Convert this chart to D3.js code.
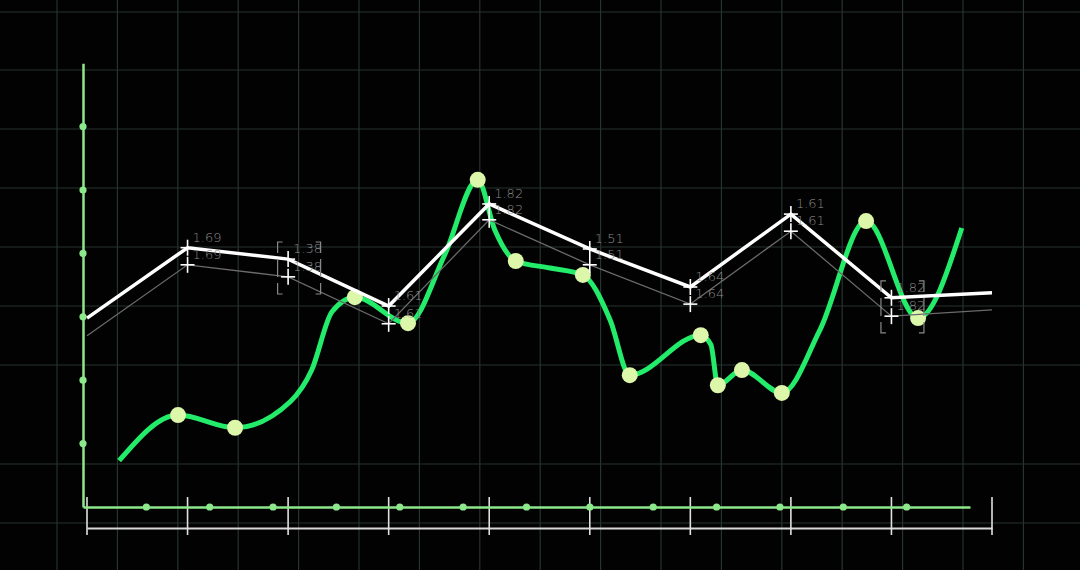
<!DOCTYPE html>
<html><head><meta charset="utf-8">
<script src="https://cdn.jsdelivr.net/npm/d3@7/dist/d3.min.js"></script>
<style>html,body{margin:0;padding:0;background:#000;}svg{display:block;}</style>
</head><body>
<svg id="c" width="1080" height="570"></svg>
<script>
// ---- data ----
const categories = [0,1,2,3,4,5,6,7,8,9];
const mainValues = [2.98, 4.09, 3.91, 3.17, 4.78, 4.07, 3.47, 4.62, 3.30, 3.38];
const shadowValues = [2.70, 3.82, 3.63, 2.89, 4.53, 3.82, 3.20, 4.35, 3.01, 3.11];
const pointLabels = ["", "1.69", "1.38", "1.61", "1.82", "1.51", "1.64", "1.61", "1.82", ""];
const bracketed = [2, 8];
const greenX = [0.57, 1.50, 2.40, 3.27, 3.61, 3.93, 4.29, 5.13, 5.71, 6.23, 6.50, 6.83, 7.37, 7.89, 8.32, 8.63, 9.75, 9.91, 10.02, 10.40, 11.03, 11.63, 12.36, 13.18, 13.87];
const greenY = [0.73, 1.45, 1.25, 1.66, 2.16, 3.08, 3.31, 2.90, 3.98, 5.16, 4.37, 3.88, 3.77, 3.66, 2.95, 2.08, 2.71, 2.56, 1.92, 2.16, 1.80, 2.79, 4.51, 2.98, 4.40];
const greenDot = [0,1,1,0,0,0,1,1,0,1,0,1,0,1,0,1,1,0,1,1,1,0,1,1,0];
const axisTicksY = [1,2,3,4,5,6];
const axisTicksX = [1,2,3,4,5,6,7,8,9,10,11,12,13];

// ---- layout ----
const svg = d3.select("#c");
svg.append("rect").attr("width",1080).attr("height",570).attr("fill","#020202");
const gridX = d3.range(17).map(i => 57 + i*60.4);
const gridY = [12, 70, 129, 188, 247, 306, 365, 464, 523];
const grid = svg.append("g").attr("stroke","#26332f").attr("stroke-width",1.2);
grid.selectAll("line.v").data(gridX).join("line").attr("x1",d=>d).attr("x2",d=>d).attr("y1",0).attr("y2",570);
grid.selectAll("line.h").data(gridY).join("line").attr("y1",d=>d).attr("y2",d=>d).attr("x1",0).attr("x2",1080);

const xG = d3.scaleLinear().domain([0,14]).range([83,970]);
const yV = d3.scaleLinear().domain([0,7]).range([507,63.2]);
const xW = d3.scalePoint().domain(categories).range([87,992]);

// white bracket axis
const wAxis = svg.append("g").attr("transform","translate(0,528)");
wAxis.call(d3.axisBottom(xW).tickSize(0).tickFormat(""));
wAxis.select(".domain").attr("stroke","#d8d8d8").attr("stroke-width",2);
wAxis.selectAll(".wt").data(categories).join("line").attr("class","wt")
  .attr("x1",d=>xW(d)).attr("x2",d=>xW(d)).attr("y1",-31).attr("y2",7)
  .attr("stroke","#e0e0e0").attr("stroke-width",1.6);

// green axes
const gc = "#8ce88a";
const gx = svg.append("g").attr("transform","translate(0,507)");
gx.call(d3.axisBottom(xG).tickValues([]).tickSize(0).tickSizeOuter(0));
gx.select(".domain").attr("stroke",gc).attr("stroke-width",2.5);
gx.selectAll("circle").data(axisTicksX).join("circle").attr("cx",d=>xG(d)).attr("cy",0).attr("r",3.6).attr("fill",gc);
const gy = svg.append("g").attr("transform","translate(83,0)");
gy.call(d3.axisLeft(yV).tickValues([]).tickSize(0).tickSizeOuter(0));
gy.select(".domain").attr("stroke",gc).attr("stroke-width",2.5);
gy.selectAll("circle").data(axisTicksY).join("circle").attr("cx",0).attr("cy",d=>yV(d)).attr("r",3.6).attr("fill",gc);

// green curve
const gpts = greenX.map((x,i)=>({x, y:greenY[i], dot:greenDot[i]}));
const gLine = d3.line().x(d=>xG(d.x)).y(d=>yV(d.y)).curve(d3.curveMonotoneX);
svg.append("path").attr("d",gLine(gpts)).attr("fill","none").attr("stroke","#22ec6a").attr("stroke-width",5).attr("stroke-linecap","butt");
svg.selectAll("circle.gd").data(gpts.filter(d=>d.dot)).join("circle").attr("class","gd")
  .attr("cx",d=>xG(d.x)).attr("cy",d=>yV(d.y)).attr("r",8).attr("fill","#ddf7aa");

// white lines
const wLine = d3.line().x((d,i)=>xW(categories[i])).y(d=>yV(d));
svg.append("path").attr("d",wLine(shadowValues)).attr("fill","none").attr("stroke","#6a6a6a").attr("stroke-width",1.3);
svg.append("path").attr("d",wLine(mainValues)).attr("fill","none").attr("stroke","#ffffff").attr("stroke-width",3.5);

// brackets
const bg = svg.append("g").attr("stroke","#8a8a8a").attr("stroke-width",1.2).attr("fill","none");
bracketed.forEach(i=>{
  const cx = xW(categories[i]) + 11;
  const cy = (yV(mainValues[i]) + yV(shadowValues[i]))/2;
  const w = 43, h = 52, x0 = cx - w/2, x1 = cx + w/2, y0 = cy - h/2, y1 = cy + h/2;
  const c = 5;
  [[x0,x0+c],[x1,x1-c]].forEach(([xa,xb])=>{
    bg.append("path").attr("d",`M${xb},${y0}H${xa}V${y0+11}`);
    bg.append("path").attr("d",`M${xb},${y1}H${xa}V${y1-11}`);
    bg.append("path").attr("d",`M${xa},${cy-9}V${cy+9}`);
  });
});

// crosses & labels
const idx = categories.filter(i=>pointLabels[i] !== "");
[[mainValues,"#ffffff"],[shadowValues,"#ffffff"]].forEach(([vals,col])=>{
  const cg = svg.append("g").attr("stroke",col).attr("stroke-width",1.6);
  idx.forEach(i=>{
    const x = xW(categories[i]), y = yV(vals[i]);
    cg.append("line").attr("x1",x-7).attr("x2",x+7).attr("y1",y).attr("y2",y);
    cg.append("line").attr("x1",x).attr("x2",x).attr("y1",y-8).attr("y2",y+8);
  });
  svg.append("g").selectAll("text").data(idx).join("text")
    .attr("x",i=>xW(categories[i])+5).attr("y",i=>yV(vals[i])-6)
    .attr("fill","#8a8a8a").attr("font-family","'DejaVu Sans', sans-serif").attr("font-weight",200)
    .attr("font-size",13).text(i=>pointLabels[i]);
});
</script>
</body></html>
